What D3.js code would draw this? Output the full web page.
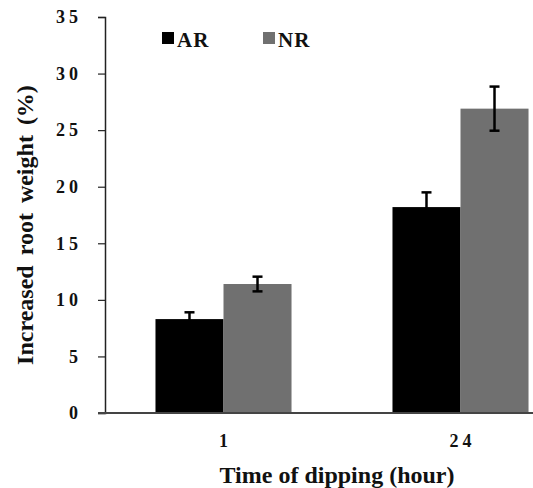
<!DOCTYPE html>
<html>
<head>
<meta charset="utf-8">
<script src="https://cdn.jsdelivr.net/npm/d3@7"></script>
<style>
  body { margin: 0; background: #fff; }
  text { font-family: "Liberation Serif", "Times New Roman", serif; font-weight: bold; }
</style>
</head>
<body>
<svg id="chart" width="533" height="488"></svg>
<script>
const categories = ['1', '24'];
const seriesNames = ['AR', 'NR'];
const arValues = [8.3, 18.2];
const nrValues = [11.4, 26.9];
const arErrors = [0.6, 1.3];
const nrErrors = [0.65, 1.95];
const yTicks = [0, 5, 10, 15, 20, 25, 30, 35];

const svg = d3.select('#chart');
const colours = { AR: '#000000', NR: '#707070' };

const plotLeft = 105;
const plotTop = 17;
const plotBottom = 413;

const rows = categories.map((c, i) => ({
    cat: c,
    vals: [
        { name: 'AR', value: arValues[i], err: arErrors[i] },
        { name: 'NR', value: nrValues[i], err: nrErrors[i] },
    ],
}));

const yScale = d3.scaleLinear().domain([0, 35]).range([plotBottom, plotTop]);
const xScale = d3.scaleBand().domain(categories).range([plotLeft, plotLeft + 474]).paddingInner(0.426).paddingOuter(0.213);
const xInner = d3.scaleBand().domain(seriesNames).range([0, xScale.bandwidth()]);

// bars
const groups = svg.selectAll('.grp')
    .data(rows)
    .enter()
    .append('g')
    .attr('class', 'grp')
    .attr('transform', d => `translate(${xScale(d.cat)},0)`);

groups.selectAll('rect')
    .data(d => d.vals)
    .enter()
    .append('rect')
    .attr('x', d => xInner(d.name))
    .attr('width', xInner.bandwidth())
    .attr('y', d => yScale(d.value))
    .attr('height', d => yScale(0) - yScale(d.value))
    .attr('fill', d => colours[d.name]);

// error bars
const errs = groups.selectAll('.err')
    .data(d => d.vals)
    .enter()
    .append('g')
    .attr('class', 'err')
    .attr('stroke', '#000')
    .attr('stroke-width', 2.5);
const cx = d => xInner(d.name) + xInner.bandwidth() / 2;
errs.append('line')
    .attr('x1', cx)
    .attr('x2', cx)
    .attr('y1', d => yScale(d.value - d.err))
    .attr('y2', d => yScale(d.value + d.err));
errs.append('line')
    .attr('x1', d => cx(d) - 5)
    .attr('x2', d => cx(d) + 5)
    .attr('y1', d => yScale(d.value + d.err))
    .attr('y2', d => yScale(d.value + d.err));
errs.append('line')
    .attr('x1', d => cx(d) - 5)
    .attr('x2', d => cx(d) + 5)
    .attr('y1', d => yScale(d.value - d.err))
    .attr('y2', d => yScale(d.value - d.err));

// y axis
const yAxis = svg.append('g')
    .attr('transform', `translate(${plotLeft},0)`)
    .call(d3.axisLeft(yScale).tickValues(yTicks).tickSize(7).tickPadding(20));
yAxis.select('.domain').attr('stroke', '#222').attr('stroke-width', 1.5);
yAxis.selectAll('.tick line').attr('stroke', '#222').attr('stroke-width', 1.2);
yAxis.selectAll('.tick text')
    .attr('font-size', 18)
    .attr('font-family', '"Liberation Serif", serif')
    .attr('font-weight', 'bold')
    .attr('letter-spacing', 4)
    .attr('dx', 4)
    .attr('fill', '#111');

// x axis
svg.append('line')
    .attr('x1', plotLeft - 7)
    .attr('x2', 533)
    .attr('y1', yScale(0))
    .attr('y2', yScale(0))
    .attr('stroke', '#444')
    .attr('stroke-width', 2);

svg.selectAll('.xlab')
    .data(categories)
    .enter()
    .append('text')
    .attr('class', 'xlab')
    .attr('x', d => xScale(d) + xScale.bandwidth() / 2 + 2)
    .attr('y', 447)
    .attr('text-anchor', 'middle')
    .attr('font-size', 18)
    .attr('letter-spacing', 4)
    .attr('fill', '#111')
    .text(d => d);

// titles
svg.append('text')
    .attr('x', 337)
    .attr('y', 483)
    .attr('text-anchor', 'middle')
    .attr('font-size', 24)
    .attr('fill', '#111')
    .text('Time of dipping (hour)');

svg.append('text')
    .attr('transform', `translate(33,225) rotate(-90)`)
    .attr('text-anchor', 'middle')
    .attr('font-size', 24)
    .attr('word-spacing', 4)
    .attr('fill', '#111')
    .text('Increased root weight (%)');

// legend
const legendX = d3.scaleOrdinal().domain(seriesNames).range([162, 263]);
const legend = svg.selectAll('.leg')
    .data(seriesNames)
    .enter()
    .append('g')
    .attr('class', 'leg')
    .attr('transform', d => `translate(${legendX(d)},32)`);
legend.append('rect')
    .attr('width', 12)
    .attr('height', 12)
    .attr('fill', d => colours[d]);
legend.append('text')
    .attr('x', 15)
    .attr('y', 15)
    .attr('font-size', 21)
    .attr('letter-spacing', 1)
    .attr('fill', '#111')
    .text(d => d);
</script>
</body>
</html>
